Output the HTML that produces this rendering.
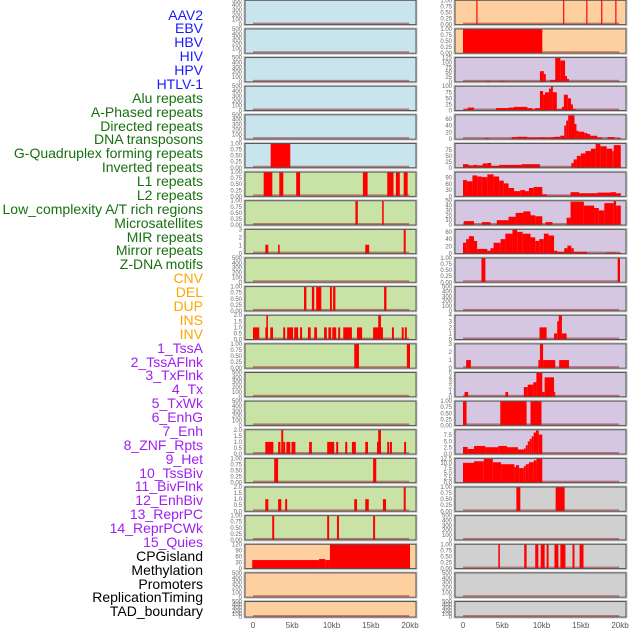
<!DOCTYPE html>
<html><head><meta charset="utf-8">
<style>
html,body{margin:0;padding:0;background:#fff;}
#wrap{position:relative;width:630px;height:630px;overflow:hidden;font-family:"Liberation Sans",sans-serif;}
.lbl{position:absolute;right:427px;font-size:14px;line-height:14px;white-space:nowrap;text-align:right;}
.b{color:#1a1aff}.g{color:#17700f}.o{color:#ffa500}.p{color:#a020f0}.k{color:#000}
svg{position:absolute;left:0;top:0;}
</style></head><body>
<div id="wrap">
<div id="labels"></div>
<svg id="plot" width="630" height="630"></svg>
</div>
<script>
// ---- data ----
const trackNames = ["AAV2","EBV","HBV","HIV","HPV","HTLV-1","Alu repeats","A-Phased repeats","Directed repeats","DNA transposons","G-Quadruplex forming repeats","Inverted repeats","L1 repeats","L2 repeats","Low_complexity A/T rich regions","Microsatellites","MIR repeats","Mirror repeats","Z-DNA motifs","CNV","DEL","DUP","INS","INV","1_TssA","2_TssAFlnk","3_TxFlnk","4_Tx","5_TxWk","6_EnhG","7_Enh","8_ZNF_Rpts","9_Het","10_TssBiv","11_BivFlnk","12_EnhBiv","13_ReprPC","14_ReprPCWk","15_Quies","CPGisland","Methylation","Promoters","ReplicationTiming","TAD_boundary"];
const trackColors = ["b","b","b","b","b","b","g","g","g","g","g","g","g","g","g","g","g","g","g","o","o","o","o","o","p","p","p","p","p","p","p","p","p","p","p","p","p","p","p","k","k","k","k","k"];
const xTicks = [0,5,10,15,20];
const xTickLabels = ["0","5kb","10kb","15kb","20kb"];

const ticks500 = [0,100,200,300,400,500];
const ticks1 = [0,0.25,0.5,0.75,1];
const ticks2 = [0,0.5,1,1.5,2];

// left column series: [startKb, endKb, value]
const L5 = [[2.25,4.75,1]];
const L6 = [[1.36,2.46,1],[3.35,3.86,1],[5.5,6.0,1],[14.0,14.6,1],[17.1,17.9,1],[18.2,18.7,1],[19.2,19.7,1]];
const L7 = [[13.05,13.35,1],[16.45,16.65,1]];
const L8 = [[1.57,1.95,1.1],[3.2,3.4,1.1],[14.3,14.8,1.1],[19.2,19.45,3]];
const L10 = [[6.5,6.8,1],[7.5,7.8,1],[8.05,8.7,1],[9.8,10.05,1],[10.2,10.5,1],[16.7,17.0,1]];
const L11 = [[0,0.8,1],[1.57,1.9,1],[1.7,1.9,2],[2.2,2.55,1],[3.85,4.1,1],[4.35,5.1,1],[5.25,5.75,1],[6.0,6.25,1],[7.0,7.35,1],[7.8,8.15,1],[9.05,9.4,1],[9.6,9.95,1],[10.1,10.6,1],[10.85,11.1,1],[11.5,12.6,1],[13.25,13.9,1],[15.3,16.55,1],[15.95,16.3,2],[17.7,17.95,1],[18.95,19.2,1],[19.35,19.6,1]];
const L12 = [[12.9,13.5,1],[19.6,20.0,1]];
const L15 = [[1.57,2.6,1],[3.2,3.5,1],[3.6,3.85,2],[3.85,4.1,1],[4.25,4.75,1],[4.9,5.4,1],[7.15,7.5,1],[9.45,10.35,1],[10.6,10.85,1],[11.75,12.0,1],[12.6,13.1,1],[14.3,14.65,1],[15.8,16.3,1],[15.95,16.3,2],[17.1,17.35,1],[17.45,17.7,1],[19.25,19.5,1]];
const L16 = [[2.7,3.2,1],[15.3,15.7,1]];
const L17 = [[1.57,1.95,1],[3.2,3.6,1],[4.1,4.35,1],[12.9,13.25,1],[14.3,14.75,1],[16.55,16.95,1],[19.2,19.45,2]];
const L18 = [[2.45,2.7,1],[9.45,9.7,1],[10.7,10.95,1],[15.3,15.55,1]];
const L19 = [[-0.1,8.4,42],[8.4,9.2,47],[9.2,9.8,42],[9.8,20.0,120]];

// right column series
const R0 = [[1.7,1.85,1],[12.75,12.9,1],[15.7,15.85,1],[17.6,17.75,1],[19.4,19.55,1]];
const R1 = [[0,10.1,1]];
const R2 = [[2.95,3.45,4],[4.75,5.4,4],[9.8,10.3,55],[10.3,10.55,40],[11.1,11.75,10],[11.75,12.4,125],[12.4,13.0,110],[13.0,13.25,30],[13.25,13.5,15]];
const R3 = [[0.1,0.6,5],[0.6,1.4,12],[4.2,5.8,10],[5.8,6.5,12],[6.5,8.2,15],[8.2,8.8,10],[8.8,9.2,5],[9.2,9.8,10],[9.8,10.2,80],[10.2,10.45,65],[10.45,10.95,75],[10.95,11.2,90],[11.2,11.45,100],[11.45,11.95,75],[11.95,12.6,5],[12.6,12.85,15],[12.85,13.35,65],[13.35,13.75,50],[13.75,14.0,25],[14.0,14.4,5]];
const R4 = [[2.8,3.3,3],[6.2,6.85,6],[6.85,8.2,7],[8.2,9.9,5],[9.9,10.2,6],[10.2,11.2,5],[11.2,11.7,6],[11.7,12.4,7],[12.4,12.9,10],[12.9,13.15,40],[13.15,13.4,55],[13.4,14.2,70],[14.2,14.45,45],[14.45,14.7,25],[14.7,15.45,22],[15.45,15.85,18],[15.85,16.2,15],[16.2,17.1,10],[17.1,17.7,5],[18.4,19.3,6],[19.3,19.6,2],[19.7,20.1,4]];
const R5 = [[0,0.7,15],[0.7,1.4,10],[1.4,1.8,12],[1.8,2.5,10],[2.5,3.1,18],[3.1,3.6,20],[3.6,4.6,8],[4.6,7.45,12],[7.45,9.8,15],[13.8,14.1,20],[14.1,14.5,35],[14.5,15.0,50],[15.0,15.6,60],[15.6,16.3,70],[16.3,16.9,80],[16.9,17.5,100],[17.5,18.3,90],[18.3,19.0,80],[19.0,19.2,70],[19.2,20.1,95]];
const R6 = [[0,0.5,78],[0.5,1.2,72],[1.2,1.8,100],[1.8,2.4,95],[2.4,3.1,92],[3.1,3.9,105],[3.9,4.6,95],[4.6,5.2,75],[5.2,5.8,62],[5.8,6.5,40],[6.5,7.3,25],[7.3,7.9,30],[7.9,8.4,25],[8.4,9.0,40],[9.0,10.1,45],[10.1,10.7,10],[10.7,13.7,3],[13.7,14.8,20],[14.8,17.1,15],[17.1,18.8,18],[18.8,19.5,20],[19.5,20.1,15]];
const R7 = [[0.1,1.4,8],[2.4,3.5,6],[4.3,5.8,10],[5.8,6.7,17],[6.7,7.7,25],[7.7,8.6,28],[8.6,9.2,20],[9.2,10.1,18],[10.5,11.4,6],[13.2,13.7,15],[13.7,15.4,48],[15.4,16.7,40],[16.7,17.3,35],[17.3,18.0,30],[18.0,19.2,45],[19.2,19.5,50],[19.5,20.1,40]];
const R8 = [[0,0.4,30],[0.4,0.75,40],[0.75,1.4,48],[1.4,1.8,35],[1.8,3.1,13],[3.1,3.5,8],[3.5,3.9,15],[3.9,4.8,30],[4.8,5.4,40],[5.4,6.3,55],[6.3,6.9,68],[6.9,7.6,60],[7.6,8.6,55],[8.6,9.2,45],[9.2,9.7,35],[9.7,10.3,40],[10.3,10.9,55],[10.9,11.6,50],[11.6,12.0,8],[12.0,12.9,5],[12.9,13.3,15],[13.3,13.8,22],[13.8,14.1,15],[14.1,15.8,5],[18.2,19.5,3],[19.7,20.1,3]];
const R9 = [[2.35,2.85,1],[19.7,20.0,1]];
const R11 = [[9.75,10.65,2],[11.6,12.0,1],[12.0,12.5,3],[12.2,12.6,4],[12.6,13.2,1]];
const R12 = [[0.4,1.0,1],[9.6,9.8,1],[9.8,10.2,3],[10.2,11.75,1],[12.25,13.5,1]];
const R13 = [[0.2,0.65,1],[5.4,5.75,1],[7.75,8.25,2],[8.25,8.95,2.5],[8.95,9.35,3],[9.35,10.1,5],[10.1,10.4,1],[10.4,11.6,4],[11.6,11.75,1]];
const R14 = [[0,0.45,1],[4.75,8.1,1],[8.6,10.0,1]];
const R15 = [[0,0.6,2.8],[0.6,1.4,2],[1.4,2.85,3.2],[2.85,4.5,2.7],[4.5,5.6,3.2],[5.6,7.0,2.7],[7.0,7.75,1.8],[7.75,8.0,2.2],[8.0,8.25,3.5],[8.25,8.5,5],[8.5,8.75,6],[8.75,9.0,7],[9.0,9.3,8.5],[9.3,9.65,9.3],[9.65,10.1,7.7]];
const R16 = [[0,1.4,10.2],[1.4,2.65,11],[2.65,3.8,12.2],[3.8,4.85,10.5],[4.85,6.55,9.5],[6.55,6.75,8],[6.75,7.15,9],[7.15,7.75,7.5],[7.75,8.0,8.5],[8.0,8.4,9.5],[8.4,9.0,10.5],[9.0,9.35,11.5],[9.35,10.1,12.5]];
const R17 = [[6.8,7.3,1],[11.8,12.95,1]];
const R19 = [[4.5,4.7,1],[7.8,8.1,1],[9.2,9.6,1],[9.9,10.4,1],[10.65,10.9,1],[11.65,12.15,1],[12.4,13.05,1],[13.95,14.2,1],[14.85,15.35,1]];

// panel definitions: [series, yMax, tickValues, tickLabels, bg]
const BLUE="#c8e4ec", GREEN="#c9e2a5", ORANGE="#fecf9f", PURPLE="#d5c6e2", GREY="#d0d0d0";
const t500 = ["0","100","200","300","400","500"], t1=["0.00","0.25","0.50","0.75","1.00"], t2=["0.0","0.5","1.0","1.5","2.0"];
const leftPanels = [
 [[],500,ticks500,t500,BLUE],[[],500,ticks500,t500,BLUE],[[],500,ticks500,t500,BLUE],[[],500,ticks500,t500,BLUE],[[],500,ticks500,t500,BLUE],
 [L5,1,ticks1,t1,BLUE],[L6,1,ticks1,t1,GREEN],[L7,1,ticks1,t1,GREEN],[L8,3,[0,1,2,3],["0","1","2","3"],GREEN],[[],500,ticks500,t500,GREEN],
 [L10,1,ticks1,t1,GREEN],[L11,2,ticks2,t2,GREEN],[L12,1,ticks1,t1,GREEN],[[],500,ticks500,t500,GREEN],[[],500,ticks500,t500,GREEN],
 [L15,2,ticks2,t2,GREEN],[L16,1,ticks1,t1,GREEN],[L17,2,ticks2,t2,GREEN],[L18,1,ticks1,t1,GREEN],
 [L19,120,[0,30,60,90,120],["0","30","60","90","120"],ORANGE],[[],500,ticks500,t500,ORANGE],[[],500,ticks500,t500,ORANGE]];
const rightPanels = [
 [R0,1,ticks1,t1,ORANGE],[R1,1,ticks1,t1,ORANGE],
 [R2,125,[0,25,50,75,100,125],["0","25","50","75","100","125"],PURPLE],
 [R3,100,[0,25,50,75,100],["0","25","50","75","100"],PURPLE],
 [R4,72,[0,20,40,60],["0","20","40","60"],PURPLE],
 [R5,102,[0,25,50,75],["0","25","50","75"],PURPLE],
 [R6,116,[0,30,60,90],["0","30","60","90"],PURPLE],
 [R7,50,[0,10,20,30,40,50],["0","10","20","30","40","50"],PURPLE],
 [R8,67,[0,20,40,60],["0","20","40","60"],PURPLE],
 [R9,1,ticks1,t1,PURPLE],[[],500,ticks500,t500,PURPLE],
 [R11,4,[0,1,2,3,4],["0","1","2","3","4"],PURPLE],
 [R12,3,[0,1,2,3],["0","1","2","3"],PURPLE],
 [R13,5,[0,1,2,3,4,5],["0","1","2","3","4","5"],PURPLE],
 [R14,1,ticks1,t1,PURPLE],
 [R15,9.6,[0,2.5,5,7.5],["0.0","2.5","5.0","7.5"],PURPLE],
 [R16,12.5,[0,2.5,5,7.5,10,12.5],["0.0","2.5","5.0","7.5","10.0","12.5"],PURPLE],
 [R17,1,ticks1,t1,GREY],[[],500,ticks500,t500,GREY],[R19,1,ticks1,t1,GREY],[[],500,ticks500,t500,GREY],[[],500,ticks500,t500,GREY]];

// ---- layout ----
const NS="http://www.w3.org/2000/svg";
const svg=document.getElementById('plot');
const labelsDiv=document.getElementById('labels');
trackNames.forEach((n,i)=>{
  const d=document.createElement('div');
  d.className='lbl '+trackColors[i];
  d.style.top=(7.5+i*13.88)+'px';
  d.textContent=n;
  
  
  labelsDiv.appendChild(d);
});
function el(tag,attrs){const e=document.createElementNS(NS,tag);for(const k in attrs)e.setAttribute(k,attrs[k]);return e;}
const PXKB=157/20;
function rowTop(i){return 0.3+i*28.63;}
function rowH(i){return i===21?15.5:24.3;}
function drawColumn(panels,left,right,x0,side){
  const xs=kb=>x0+kb*PXKB;
  panels.forEach((p,i)=>{
    const [series,ymax,tv,tl,bg]=p;
    const top=rowTop(i),h=rowH(i),bot=top+h;
    const g=el('g',{});
    
    
    g.appendChild(el('rect',{x:left-1,y:top-1,width:right-left+2,height:h+2,fill:'none',stroke:'#c8c8c8','stroke-width':1}));
    g.appendChild(el('rect',{x:left,y:top,width:right-left,height:h,fill:bg}));
    const ys=v=>bot-v/ymax*h;
    g.appendChild(el('rect',{x:xs(0),y:bot-2,width:xs(19.9)-xs(0),height:1.6,fill:'rgba(160,40,40,0.55)'}));
    series.forEach(s=>{
      const a=Math.max(xs(s[0]),left),b=Math.min(xs(s[1]),right);
      const r=el('rect',{x:a,y:ys(s[2]),width:Math.max(b-a,1),height:bot-ys(s[2]),fill:'#ff0000'});
      
      
      g.appendChild(r);
    });
    g.appendChild(el('rect',{x:left,y:top,width:right-left,height:h,fill:'none',stroke:'#555','stroke-width':1}));
    tv.forEach((v,k)=>{
      const t=el('text',{x:left-3,y:ys(v)+2,'font-size':6,'text-anchor':'end',fill:'#666','font-family':'Liberation Sans, sans-serif'});
      t.textContent=tl[k];
      
      
      g.appendChild(t);
    });
    svg.appendChild(g);
  });
  xTicks.forEach((v,k)=>{
    const t=el('text',{x:xs(v),y:628,'font-size':8,'text-anchor':'middle',fill:'#555','font-family':'Liberation Sans, sans-serif'});
    t.textContent=xTickLabels[k];
    
    
    svg.appendChild(t);
  });
}
drawColumn(leftPanels,245,416,253,'left');
drawColumn(rightPanels,455,626,463,'right');
</script>
</body></html>
